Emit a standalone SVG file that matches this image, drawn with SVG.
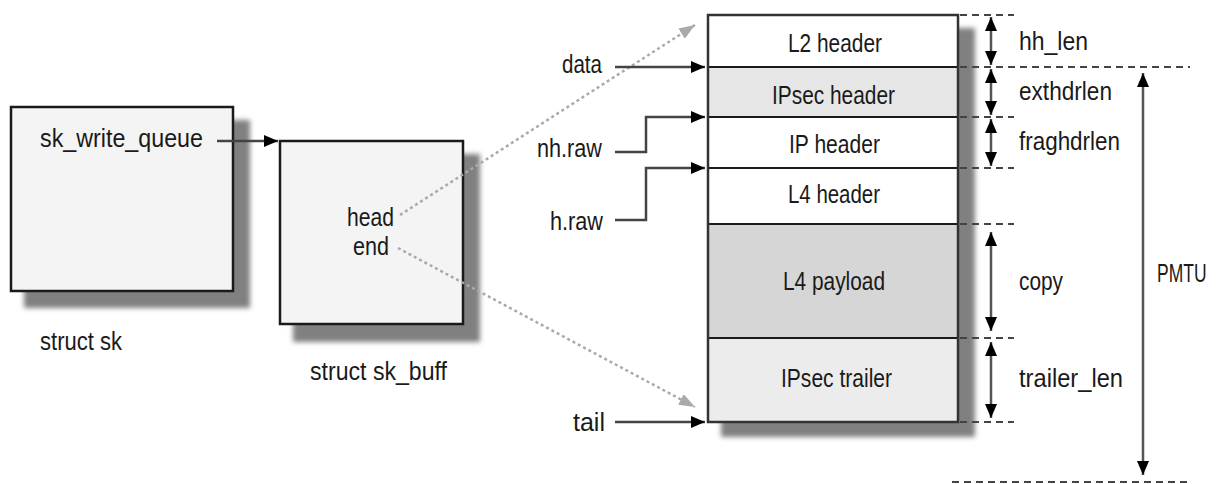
<svg xmlns="http://www.w3.org/2000/svg" width="1220" height="484" viewBox="0 0 1220 484">
<style>
  text { font-family: "Liberation Sans Narrow", "Liberation Sans", Arial, sans-serif; font-size: 25px; fill: #1a1a1a; }
  .box { fill: #f4f4f4; stroke: #1a1a1a; stroke-width: 2.5; }
  .shadow { fill: #808080; filter: url(#blur); }
  .div { stroke: #1a1a1a; stroke-width: 2; }
  .ptr { stroke: #444; stroke-width: 2.5; fill: none; marker-end: url(#arr); }
  .dot { stroke: #aaa; stroke-width: 2.5; stroke-dasharray: 3 3; fill: none; marker-end: url(#garr); }
  .dim { stroke: #555; stroke-width: 2.5; marker-start: url(#darr); marker-end: url(#darr); }
  .dash { stroke: #444; stroke-width: 2; stroke-dasharray: 7 5; }
</style>
<defs>
  <filter id="blur" x="-10%" y="-10%" width="120%" height="120%"><feGaussianBlur stdDeviation="2.5"/></filter>
  <marker id="arr" markerUnits="userSpaceOnUse" markerWidth="14" markerHeight="12" refX="14" refY="6" orient="auto"><path d="M0,0 L14,6 L0,12 z" fill="#000"/></marker>
  <marker id="garr" markerUnits="userSpaceOnUse" markerWidth="16" markerHeight="12" refX="16" refY="6" orient="auto"><path d="M0,0 L16,6 L0,12 z" fill="#aaa"/></marker>
  <marker id="darr" markerUnits="userSpaceOnUse" markerWidth="14" markerHeight="12" refX="14" refY="6" orient="auto-start-reverse"><path d="M0,0 L14,6 L0,12 z" fill="#000"/></marker>
</defs>

<g id="struct-sk">
  <rect class="shadow" x="24" y="120" width="226" height="188"/>
  <rect class="box" x="11" y="107" width="222" height="184"/>
  <text x="40" y="147" textLength="163" lengthAdjust="spacingAndGlyphs">sk_write_queue</text>
  <text x="40" y="350" textLength="82" lengthAdjust="spacingAndGlyphs">struct sk</text>
</g>

<g id="struct-sk-buff">
  <rect class="shadow" x="293" y="154" width="187" height="188"/>
  <rect class="box" x="280" y="141" width="183" height="183"/>
  <text x="347" y="226" textLength="47" lengthAdjust="spacingAndGlyphs">head</text>
  <text x="353" y="255" textLength="36" lengthAdjust="spacingAndGlyphs">end</text>
  <text x="310" y="380" textLength="137" lengthAdjust="spacingAndGlyphs">struct sk_buff</text>
</g>

<g id="buffer">
  <rect class="shadow" x="721" y="28" width="254" height="409"/>
  <rect x="708" y="15" width="250" height="52" fill="#ffffff"/>
  <rect x="708" y="67" width="250" height="50" fill="#e6e6e6"/>
  <rect x="708" y="117" width="250" height="51" fill="#ffffff"/>
  <rect x="708" y="168" width="250" height="56" fill="#ffffff"/>
  <rect x="708" y="224" width="250" height="114" fill="#d6d6d6"/>
  <rect x="708" y="338" width="250" height="84" fill="#ececec"/>
  <line class="div" x1="708" y1="67" x2="958" y2="67"/>
  <line class="div" x1="708" y1="117" x2="958" y2="117"/>
  <line class="div" x1="708" y1="168" x2="958" y2="168"/>
  <line class="div" x1="708" y1="224" x2="958" y2="224"/>
  <line class="div" x1="708" y1="338" x2="958" y2="338"/>
  <rect x="708" y="15" width="250" height="407" fill="none" stroke="#333" stroke-width="2.5"/>
  <text x="788" y="52" textLength="94" lengthAdjust="spacingAndGlyphs">L2 header</text>
  <text x="772" y="104" textLength="123" lengthAdjust="spacingAndGlyphs">IPsec header</text>
  <text x="789" y="153" textLength="91" lengthAdjust="spacingAndGlyphs">IP header</text>
  <text x="788" y="203" textLength="92" lengthAdjust="spacingAndGlyphs">L4 header</text>
  <text x="783" y="290" textLength="102" lengthAdjust="spacingAndGlyphs">L4 payload</text>
  <text x="781" y="387" textLength="111" lengthAdjust="spacingAndGlyphs">IPsec trailer</text>
</g>

<g id="pointer-labels">
  <text x="562" y="73" textLength="40" lengthAdjust="spacingAndGlyphs">data</text>
  <text x="537" y="157" textLength="65" lengthAdjust="spacingAndGlyphs">nh.raw</text>
  <text x="550" y="230" textLength="53" lengthAdjust="spacingAndGlyphs">h.raw</text>
  <text x="573" y="431" textLength="32" lengthAdjust="spacingAndGlyphs">tail</text>
</g>

<g id="dimension-labels">
  <text x="1019" y="50" textLength="69" lengthAdjust="spacingAndGlyphs">hh_len</text>
  <text x="1019" y="100" textLength="93" lengthAdjust="spacingAndGlyphs">exthdrlen</text>
  <text x="1019" y="150" textLength="101" lengthAdjust="spacingAndGlyphs">fraghdrlen</text>
  <text x="1019" y="290" textLength="44" lengthAdjust="spacingAndGlyphs">copy</text>
  <text x="1019" y="387" textLength="104" lengthAdjust="spacingAndGlyphs">trailer_len</text>
  <text transform="translate(1157,282) scale(0.7,1)" x="0" y="0">PMTU</text>
</g>

<g id="connectors">
  <line class="ptr" x1="217" y1="141" x2="278" y2="141"/>
  <line class="dot" x1="400" y1="215" x2="695" y2="25"/>
  <line class="dot" x1="398" y1="248" x2="695" y2="407"/>
  <line class="ptr" x1="615" y1="67" x2="705" y2="67"/>
  <polyline class="ptr" points="615,152 646,152 646,117 705,117"/>
  <polyline class="ptr" points="615,220 646,220 646,168 705,168"/>
  <line class="ptr" x1="615" y1="422" x2="705" y2="422"/>

  <line class="dash" x1="960" y1="15" x2="1014" y2="15"/>
  <line class="dash" x1="960" y1="67" x2="1190" y2="67"/>
  <line class="dash" x1="960" y1="117" x2="1014" y2="117"/>
  <line class="dash" x1="960" y1="168" x2="1014" y2="168"/>
  <line class="dash" x1="960" y1="224" x2="1014" y2="224"/>
  <line class="dash" x1="960" y1="338" x2="1014" y2="338"/>
  <line class="dash" x1="960" y1="422" x2="1014" y2="422"/>
  <line class="dash" x1="952" y1="482" x2="1190" y2="482"/>

  <line class="dim" x1="991" y1="17" x2="991" y2="65"/>
  <line class="dim" x1="991" y1="69" x2="991" y2="115"/>
  <line class="dim" x1="991" y1="119" x2="991" y2="166"/>
  <line class="dim" x1="991" y1="232" x2="991" y2="331"/>
  <line class="dim" x1="991" y1="342" x2="991" y2="418"/>
  <line class="dim" x1="1143" y1="73" x2="1143" y2="475"/>
</g>
</svg>
